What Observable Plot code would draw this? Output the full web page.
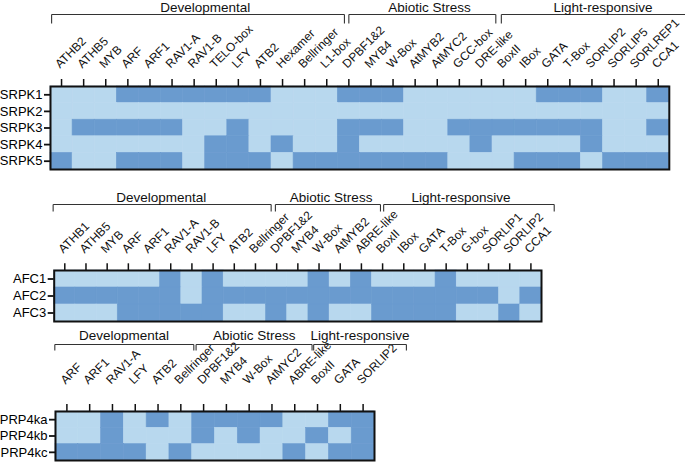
<!DOCTYPE html>
<html><head><meta charset="utf-8">
<script src="https://cdn.jsdelivr.net/npm/d3@7"></script>
<script src="https://cdn.jsdelivr.net/npm/@observablehq/plot@0.6"></script>
<style>
body{margin:0;background:#fff;}
#wrap{position:relative;width:685px;height:463px;overflow:hidden;background:#fff;}
#wrap svg{position:absolute;left:0;}
</style></head><body><div id="wrap"></div>
<script>
const lightColor = "#b8d8ee", darkColor = "#6a9bcf";
const groupNames = ["Developmental", "Abiotic Stress", "Light-responsive"];

// Panel 1: SRPK
const srpkCols = ["ATHB2","ATHB5","MYB","ARF","ARF1","RAV1-A","RAV1-B","TELO-box","LFY","ATB2","Hexamer","Bellringer","L1-box","DPBF1&2","MYB4","W-Box","AtMYB2","AtMYC2","GCC-box","DRE-like","BoxII","IBox","GATA","T-Box","SORLIP2","SORLIP5","SORLREP1","CCA1"];
const srpkRows = ["SRPK1","SRPK2","SRPK3","SRPK4","SRPK5"];
const srpkValues = [
  [0,0,0,1,1,1,1,1,1,1,0,0,0,1,1,1,0,0,0,0,0,0,1,1,1,0,0,1],
  [0,0,0,0,0,0,0,0,0,0,0,0,0,0,0,0,0,0,0,0,0,0,0,0,0,0,0,0],
  [0,1,1,1,1,1,0,0,1,0,0,0,0,1,1,1,0,0,1,1,1,1,1,1,1,0,0,1],
  [0,0,0,0,0,0,0,1,1,0,1,0,0,1,0,0,0,0,0,1,0,0,0,0,1,0,0,0],
  [1,0,0,1,1,1,0,1,1,1,0,1,1,1,1,1,1,1,0,0,0,1,1,1,0,1,1,1]
];
const srpkGroupStart = [0.05, 13.5, 20.4];
const srpkGroupEnd = [13.3, 20.15, 29.5];
const srpkGroupLabelAt = [7.0, 17.15, 25.0];

// Panel 2: AFC
const afcCols = ["ATHB1","ATHB5","MYB","ARF","ARF1","RAV1-A","RAV1-B","LFY","ATB2","Bellringer","DPBF1&2","MYB4","W-Box","AtMYB2","ABRE-like","BoxII","IBox","GATA","T-Box","G-box","SORLIP1","SORLIP2","CCA1"];
const afcRows = ["AFC1","AFC2","AFC3"];
const afcValues = [
  [0,0,0,0,0,1,0,1,0,0,0,0,1,0,1,0,0,0,1,0,0,0,0],
  [1,1,1,1,1,1,0,1,1,1,1,1,1,1,1,1,1,1,1,1,1,0,1],
  [0,0,0,1,1,1,1,1,0,0,1,0,1,0,0,1,1,1,1,0,0,1,0]
];
const afcGroupStart = [-0.05, 10.44, 15.55];
const afcGroupEnd = [10.24, 15.4, 23.6];
const afcGroupLabelAt = [5.05, 13.07, 19.2];

// Panel 3: PRP4k
const prpCols = ["ARF","ARF1","RAV1-A","LFY","ATB2","Bellringer","DPBF1&2","MYB4","W-Box","AtMYC2","ABRE-like","BoxII","GATA","SORLIP2"];
const prpRows = ["PRP4ka","PRP4kb","PRP4kc"];
const prpValues = [
  [0,0,1,0,1,0,1,1,1,1,0,0,1,1],
  [0,0,1,0,0,0,1,0,1,0,0,1,0,1],
  [1,1,1,1,0,1,0,0,0,0,1,0,1,1]
];
const prpGroupStart = [-0.03, 6.17, 11.33];
const prpGroupEnd = [6.07, 11.26, 15.4];
const prpGroupLabelAt = [3.01, 8.72, 13.36];

function panel(cols, rows, values, gStart, gEnd, gLabel, L) {
  const n = cols.length, m = rows.length;
  const rowPx = (L.height - L.mt - L.mb) / m;
  const yp = px => -px / rowPx;
  const cells = rows.flatMap((r, ri) => cols.map((c, ci) => ({r: ri, c: ci, v: values[ri][ci]})));
  const g = groupNames.map((name, i) => ({name, s: gStart[i], e: gEnd[i], at: gLabel[i]}));
  const ends = g.flatMap(d => [d.s, d.e]);
  const xt = d3.range(n).map(i => i + 0.5);
  const svg = Plot.plot({
    width: 685, height: L.height,
    marginTop: L.mt, marginBottom: L.mb, marginLeft: L.ml, marginRight: L.mr,
    style: {fontFamily: "'Liberation Sans', Arial, Helvetica, sans-serif", color: "#000", background: "transparent", overflow: "visible"},
    x: {domain: [0, n], label: null, axis: null},
    y: {domain: [0, m], reverse: true, label: null, axis: null},
    color: {type: "ordinal", domain: [0, 1], range: [lightColor, darkColor]},
    marks: [
      Plot.rect(cells, {x1: "c", x2: d => d.c + 1, y1: "r", y2: d => d.r + 1, fill: "v", stroke: "v", strokeWidth: 0.6}),
      Plot.frame({stroke: "#111", strokeWidth: 2}),
      Plot.ruleX(xt, {x: d => d, y1: 0, y2: yp(L.tick), stroke: "#111", strokeWidth: 1.5}),
      Plot.text(xt, {x: d => d, frameAnchor: "top", text: d => cols[Math.floor(d)], rotate: -45,
        textAnchor: "start", lineAnchor: "middle", dx: -4.2, dy: -(L.lab + 2.8), fontSize: 12, fill: "#111"}),
      Plot.axisY(d3.range(m).map(i => i + 0.5), {anchor: "left", tickSize: 6, tickPadding: 2,
        tickFormat: d => rows[Math.floor(d)], fontSize: 13, strokeWidth: 1.8, stroke: "#111", label: null}),
      Plot.link(g, {x1: "s", x2: "e", y1: () => yp(L.line), y2: () => yp(L.line), stroke: "#333", strokeWidth: 1.1}),
      Plot.link(ends, {x1: d => d, x2: d => d, y1: () => yp(L.line), y2: () => yp(L.end), stroke: "#333", strokeWidth: 1.1}),
      Plot.text(g, {x: "at", y: () => yp(L.text), text: "name", fontSize: 13.5, fill: "#111"})
    ]
  });
  svg.style.top = L.top + "px";
  document.getElementById("wrap").appendChild(svg);
}

panel(srpkCols, srpkRows, srpkValues, srpkGroupStart, srpkGroupEnd, srpkGroupLabelAt,
  {top: 0, height: 180, mt: 86, mb: 11, ml: 50, mr: 16.2, tick: 7, lab: 17.7, line: 72, end: 63, text: 79});
panel(afcCols, afcRows, afcValues, afcGroupStart, afcGroupEnd, afcGroupLabelAt,
  {top: 180, height: 145, mt: 90, mb: 4, ml: 53.7, mr: 144, tick: 6.7, lab: 16.7, line: 66, end: 59, text: 73.3});
panel(prpCols, prpRows, prpValues, prpGroupStart, prpGroupEnd, prpGroupLabelAt,
  {top: 325, height: 138, mt: 86, mb: 3, ml: 55, mr: 311, tick: 7, lab: 26.7, line: 67, end: 61, text: 76});
</script></body></html>
